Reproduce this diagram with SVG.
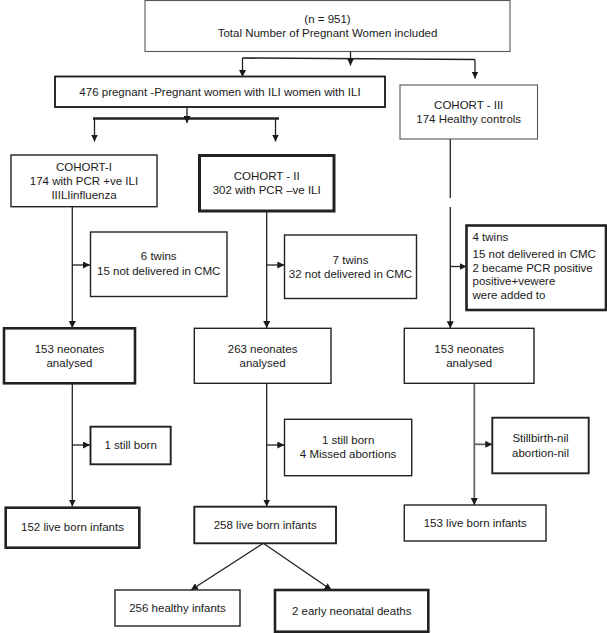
<svg xmlns="http://www.w3.org/2000/svg" width="607" height="633" viewBox="0 0 607 633">
<style>
  text { font-family: "Liberation Sans", Arial, sans-serif; font-size: 11.5px; fill: #1a1a1a; }
  .c { text-anchor: middle; }
  .box { fill: #ffffff; stroke: #222222; stroke-width: 1.4; }
  .thin { stroke: #555555; stroke-width: 1.1; }
  .thick { stroke-width: 2.6; }
  .mid { stroke-width: 1.9; }
  .ln { fill: none; stroke: #222222; stroke-width: 1.3; }
  .gray { stroke: #666666; stroke-width: 1.8; }
  .arr { marker-end: url(#ah); }
</style>
<defs>
  <marker id="ah" viewBox="0 0 10 10" refX="10" refY="5" markerWidth="7" markerHeight="7" markerUnits="userSpaceOnUse" orient="auto">
    <path d="M0,0 L10,5 L0,10 z" fill="#1a1a1a"/>
  </marker>
</defs>
<rect width="607" height="633" fill="#ffffff"/>

<g id="connectors">
  <line class="ln" x1="350.5" y1="51.5" x2="350.5" y2="58"/>
  <line class="ln" x1="242.5" y1="58" x2="475" y2="59.5" style="stroke-width:1.6"/>
  <line class="ln arr" x1="350.5" y1="58" x2="350.5" y2="65.5"/>
  <line class="ln arr" x1="242.5" y1="58" x2="242.5" y2="77"/>
  <line class="ln arr" x1="475" y1="59.5" x2="475" y2="78.5"/>

  <line class="ln" x1="187" y1="107" x2="187" y2="118.5"/>
  <line class="ln" x1="93" y1="118.5" x2="279" y2="118.5" style="stroke-width:2.6"/>
  <line class="ln arr" x1="187" y1="118.5" x2="187" y2="123"/>
  <line class="ln arr" x1="94.5" y1="118.5" x2="94.5" y2="141.5"/>
  <line class="ln arr" x1="275.5" y1="118.5" x2="275.5" y2="141.5"/>

  <line class="ln arr" x1="72.3" y1="206.7" x2="72.3" y2="328"/>
  <line class="ln arr" x1="72.3" y1="265" x2="90" y2="265"/>
  <line class="ln arr" x1="266.7" y1="211" x2="266.7" y2="328"/>
  <line class="ln arr" x1="266.7" y1="265" x2="284.3" y2="265"/>
  <line class="ln" x1="450.3" y1="139" x2="450.3" y2="198"/>
  <line class="ln arr" x1="450.3" y1="207" x2="450.3" y2="328.3"/>
  <line class="ln arr" x1="450.3" y1="266.5" x2="466.5" y2="266.5"/>

  <line class="ln arr" x1="72.3" y1="383.3" x2="72.3" y2="506.5"/>
  <line class="ln arr" x1="72.3" y1="445" x2="90" y2="445"/>
  <line class="ln arr" x1="266.7" y1="383.3" x2="266.7" y2="506.5"/>
  <line class="ln arr" x1="266.7" y1="445" x2="284.3" y2="445"/>
  <line class="ln gray arr" x1="474.3" y1="383.3" x2="474.3" y2="505"/>
  <line class="ln gray arr" x1="474.3" y1="444.3" x2="492.3" y2="444.3"/>

  <line class="ln arr" x1="263.3" y1="543.3" x2="191" y2="590"/>
  <line class="ln arr" x1="263.3" y1="543.3" x2="331.5" y2="590"/>
</g>

<g id="total">
  <rect class="box thin" x="145" y="0.5" width="365" height="51"/>
  <text class="c" x="327.5" y="23">(n = 951)</text>
  <text class="c" x="327.5" y="37">Total Number of Pregnant Women included</text>
</g>

<g id="ili">
  <rect class="box mid" x="55" y="76.5" width="330" height="30.5"/>
  <text class="c" x="220" y="95.5">476 pregnant -Pregnant women with ILI women with ILI</text>
</g>

<g id="cohort3">
  <rect class="box thin" x="400" y="85" width="137.5" height="54"/>
  <text class="c" x="468.7" y="109">COHORT - III</text>
  <text class="c" x="468.7" y="123">174 Healthy controls</text>
</g>

<g id="cohort1">
  <rect class="box" x="11" y="155" width="146" height="51.7"/>
  <text class="c" x="84" y="171">COHORT-I</text>
  <text class="c" x="84" y="185">174 with PCR +ve ILI</text>
  <text class="c" x="84" y="198.5">IIILIinfluenza</text>
</g>

<g id="cohort2">
  <rect class="box thick" x="199.5" y="155.5" width="134.5" height="55.5" style="stroke-width:3"/>
  <text class="c" x="266.7" y="180">COHORT - II</text>
  <text class="c" x="266.7" y="193.5">302 with PCR –ve ILI</text>
</g>

<g id="excl1">
  <rect class="box" x="90.5" y="232" width="136.5" height="64.5"/>
  <text class="c" x="158.7" y="260">6 twins</text>
  <text class="c" x="158.7" y="275">15 not delivered in CMC</text>
</g>

<g id="excl2">
  <rect class="box" x="284.5" y="235" width="132" height="63.5"/>
  <text class="c" x="350.5" y="263.5">7 twins</text>
  <text class="c" x="350.5" y="277.5">32 not delivered in CMC</text>
</g>

<g id="excl3">
  <rect class="box thick" x="466.5" y="225.5" width="139.5" height="84.5"/>
  <text x="472.5" y="241">4 twins</text>
  <text x="472.5" y="257.5">15 not delivered in CMC</text>
  <text x="472.5" y="271.5">2 became PCR positive</text>
  <text x="472.5" y="285">positive+vewere</text>
  <text x="472.5" y="298.5">were added to</text>
</g>

<g id="neo1">
  <rect class="box thick" x="4" y="328.3" width="131" height="55"/>
  <text class="c" x="69.5" y="352.5">153 neonates</text>
  <text class="c" x="69.5" y="367">analysed</text>
</g>

<g id="neo2">
  <rect class="box" x="194.3" y="328.3" width="136.7" height="55"/>
  <text class="c" x="262.6" y="352.5">263 neonates</text>
  <text class="c" x="262.6" y="367">analysed</text>
</g>

<g id="neo3">
  <rect class="box" x="404.3" y="328.3" width="129.7" height="55"/>
  <text class="c" x="469.2" y="352.5">153 neonates</text>
  <text class="c" x="469.2" y="367">analysed</text>
</g>

<g id="still1">
  <rect class="box mid" x="90.5" y="426.7" width="80.2" height="37.6"/>
  <text class="c" x="130.6" y="449">1 still born</text>
</g>

<g id="still2">
  <rect class="box" x="284.5" y="419.3" width="127.2" height="56.4"/>
  <text class="c" x="348.1" y="443.5">1 still born</text>
  <text class="c" x="348.1" y="458">4 Missed abortions</text>
</g>

<g id="still3">
  <rect class="box mid" x="492.3" y="417.7" width="96.4" height="55.6"/>
  <text class="c" x="540.5" y="442">Stillbirth-nil</text>
  <text class="c" x="540.5" y="456.5">abortion-nil</text>
</g>

<g id="live1">
  <rect class="box thick" x="5.7" y="507.7" width="133.6" height="40"/>
  <text class="c" x="72.5" y="531">152 live born infants</text>
</g>

<g id="live2">
  <rect class="box mid" x="194.3" y="506.7" width="141.7" height="36.6"/>
  <text class="c" x="265.2" y="529">258 live born infants</text>
</g>

<g id="live3">
  <rect class="box" x="404.3" y="505" width="141.7" height="36"/>
  <text class="c" x="475.2" y="526.5">153 live born infants</text>
</g>

<g id="healthy">
  <rect class="box" x="115" y="590" width="125" height="36"/>
  <text class="c" x="177.5" y="611.5">256 healthy infants</text>
</g>

<g id="deaths">
  <rect class="box thick" x="275" y="590" width="153.3" height="41.7"/>
  <text class="c" x="351.7" y="615">2 early neonatal deaths</text>
</g>
</svg>
